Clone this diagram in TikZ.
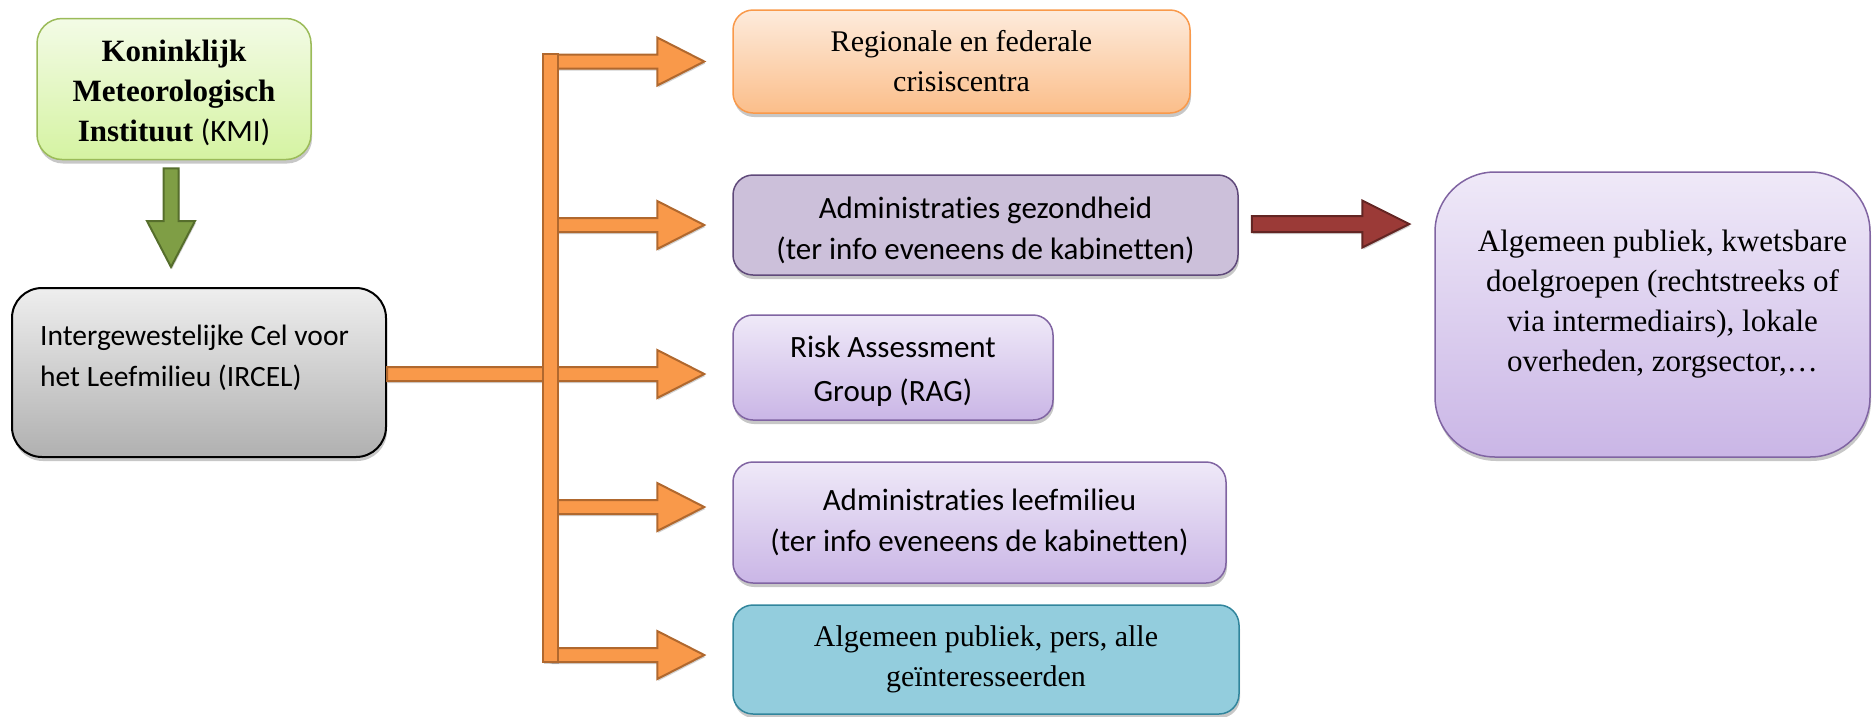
\documentclass[tikz,border=0pt]{standalone}
\usepackage{fontspec}
\setmainfont{Liberation Serif}
\newfontfamily\calibrifont{Carlito}[Ligatures=NoCommon]
\usetikzlibrary{calc,shadows}

\definecolor{orF}{HTML}{F9994A}
\definecolor{orD}{HTML}{B0682E}
\definecolor{grF}{HTML}{7F9E45}
\definecolor{grD}{HTML}{566E2C}
\definecolor{rdF}{HTML}{9B3A37}
\definecolor{rdD}{HTML}{632523}
\definecolor{kmiT}{HTML}{F3FBE6}
\definecolor{kmiB}{HTML}{D5F3A2}
\definecolor{kmiL}{HTML}{9BBB59}
\definecolor{irT}{HTML}{EEEEEE}
\definecolor{irB}{HTML}{B0B0B0}
\definecolor{regT}{HTML}{FDEBDC}
\definecolor{regB}{HTML}{FBBE8A}
\definecolor{gezF}{HTML}{CCC0DA}
\definecolor{gezL}{HTML}{5F497A}
\definecolor{puT}{HTML}{EFE9F8}
\definecolor{puB}{HTML}{CAB6E6}
\definecolor{puL}{HTML}{8064A2}
\definecolor{algF}{HTML}{93CDDD}
\definecolor{algL}{HTML}{31859C}

% horizontal block arrow: style, start, end, shaft half, head half, head length
\newcommand{\harrow}[6]{\path[#1] let \p1=#2, \p2=#3 in
  (\x1,\y1+#4pt) -- (\x2-#6pt,\y1+#4pt) -- (\x2-#6pt,\y1+#5pt) -- (\x2,\y1)
  -- (\x2-#6pt,\y1-#5pt) -- (\x2-#6pt,\y1-#4pt) -- (\x1,\y1-#4pt) -- cycle;}
% vertical (downward) block arrow
\newcommand{\varrow}[6]{\path[#1] let \p1=#2, \p2=#3 in
  (\x1-#4pt,\y1) -- (\x1-#4pt,\y2+#6pt) -- (\x1-#5pt,\y2+#6pt) -- (\x1,\y2)
  -- (\x1+#5pt,\y2+#6pt) -- (\x1+#4pt,\y2+#6pt) -- (\x1+#4pt,\y1) -- cycle;}

\tikzset{
  box/.style={draw, line width=1.5pt, inner sep=0pt, align=center,
    drop shadow={shadow xshift=1pt, shadow yshift=-4pt, opacity=0.22, fill=black}},
  serifbox/.style={box, font=\fontsize{30}{40}\selectfont},
  calbox/.style={box, font=\calibrifont\fontsize{31}{41}\selectfont},
  purplebox/.style={top color=puT, bottom color=puB, draw=puL},
  boxtext/.style={align=center, inner sep=0pt},
  arrowbase/.style={line width=2pt, line join=miter,
    drop shadow={shadow xshift=1pt, shadow yshift=-2pt, opacity=0.18, fill=black}},
  orarrow/.style={arrowbase, fill=orF, draw=orD},
  grarrow/.style={arrowbase, fill=grF, draw=grD},
  rdarrow/.style={arrowbase, fill=rdF, draw=rdD},
}

\begin{document}
\begin{tikzpicture}[x=1pt, y=-1pt]
\useasboundingbox (0,0) rectangle (1872,716);

% nodes
\node[box, draw=kmiL, top color=kmiT, bottom color=kmiB, rounded corners=25pt,
  minimum width=274pt, minimum height=141pt] (kmi) at (174,89) {};
\node[boxtext, font=\fontsize{31}{40}\selectfont] (kmit) at ([yshift=-4pt]kmi.center)
  {\textbf{Koninklijk}\\\textbf{Meteorologisch}\\\textbf{Instituut} {\calibrifont (KMI)}};

\node[box, draw=black, line width=2pt, top color=irT, bottom color=irB, rounded corners=30pt,
  minimum width=374pt, minimum height=169pt] (ircel) at (199,372.5) {};
\node[anchor=west, align=left, inner sep=0pt, font=\calibrifont\fontsize{29.5}{41}\selectfont]
  (ircelt) at ([xshift=29pt, yshift=15pt]ircel.west) {Intergewestelijke Cel voor\\het Leefmilieu (IRCEL)};

\node[serifbox, draw=orF, top color=regT, bottom color=regB, rounded corners=20pt,
  minimum width=457pt, minimum height=103pt] (reg) at (961.5,61.5) {Regionale en federale\\crisiscentra};

\node[box, draw=gezL, fill=gezF, rounded corners=20pt,
  minimum width=505pt, minimum height=100pt] (gez) at (985.5,225) {};
\node[boxtext, font=\calibrifont\fontsize{31}{41}\selectfont] (gezt) at ([yshift=-5pt]gez.center)
  {Administraties gezondheid\\(ter info eveneens de kabinetten)};

\node[box, purplebox, rounded corners=20pt,
  minimum width=320pt, minimum height=105pt] (rag) at (893,367.5) {};
\node[boxtext, font=\calibrifont\fontsize{31}{44}\selectfont] (ragt) at ([yshift=-4pt]rag.center)
  {Risk Assessment\\Group (RAG)};

\node[calbox, purplebox, rounded corners=20pt,
  minimum width=493pt, minimum height=121pt] (lee) at (979.5,522.5) {Administraties leefmilieu\\(ter info eveneens de kabinetten)};

\node[serifbox, draw=algL, fill=algF, rounded corners=20pt,
  minimum width=506pt, minimum height=109pt] (alg) at (986,659.5) {Algemeen publiek, pers, alle\\geïnteresseerden};

\node[box, purplebox, rounded corners=60pt,
  minimum width=435pt, minimum height=285pt] (pub) at (1652.5,314.5) {};
\node[boxtext, font=\fontsize{31}{40}\selectfont]
  (pubt) at ([xshift=10pt, yshift=10pt]pub.center)
  {Algemeen publiek, kwetsbare\\doelgroepen (rechtstreeks of\\via intermediairs), lokale\\overheden, zorgsector,\dots};

% tree coordinates
\coordinate (bartop) at (550.5,54);
\coordinate (barbot) at (550.5,662);
\coordinate (b1) at (550.5,61.5);
\coordinate (b2) at (550.5,225);
\coordinate (b3) at (550.5,374);
\coordinate (b4) at (550.5,507);
\coordinate (b5) at (550.5,655);

% green arrow
\varrow{grarrow}{($(kmi.south)+(-3,8)$)}{($(kmi.south |- ircel.north)+(-3,-20)$)}{7.5}{24}{46}

% orange branches
\harrow{orarrow}{(b1)}{($(b1 -| reg.west)+(-28,0)$)}{7}{24}{47}
\harrow{orarrow}{(b2)}{($(b2 -| gez.west)+(-28,0)$)}{7}{24}{47}
\harrow{orarrow}{(ircel.east |- b3)}{($(b3 -| rag.west)+(-28,0)$)}{7}{24}{47}
\harrow{orarrow}{(b4)}{($(b4 -| lee.west)+(-28,0)$)}{7}{24}{47}
\harrow{orarrow}{(b5)}{($(b5 -| alg.west)+(-28,0)$)}{7}{24}{47}
\path[orarrow] ([xshift=-7.5pt]bartop) rectangle ([xshift=7.5pt]barbot);

% red arrow
\harrow{rdarrow}{($(gez.east)+(13,-1)$)}{($(gez.east -| pub.west)+(-25,-1)$)}{8}{23.5}{47}
\end{tikzpicture}
\end{document}
